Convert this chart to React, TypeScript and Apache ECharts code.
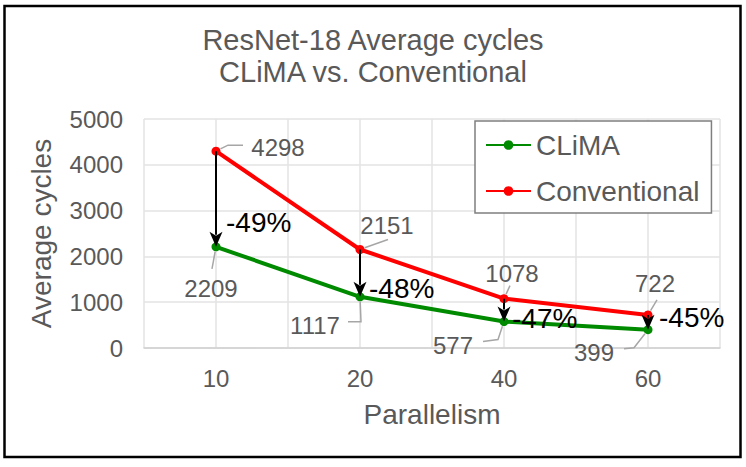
import React, { useEffect, useRef } from "react";
import * as echarts from "echarts";

const titleLines = ["ResNet-18 Average cycles", "CLiMA vs. Conventional"];
const categories = ["10", "20", "40", "60"];
const climaValues = [2209, 1117, 577, 399];
const conventionalValues = [4298, 2151, 1078, 722];
const reductionLabels = ["-49%", "-48%", "-47%", "-45%"];
const yTicks = { min: 0, max: 5000, interval: 1000 };
const xAxisName = "Parallelism";
const yAxisName = "Average cycles";
const seriesNames = ["CLiMA", "Conventional"];

// layout of annotations (offsets in pixels relative to points)
const convLabelLayout = [
  { dx: 62, dy: -4, leader: [[12, -6], [27, -6]] },
  { dx: 27, dy: -24, leader: [[28, -10]] },
  { dx: 8, dy: -25, leader: [[6, -13]] },
  { dx: 7, dy: -31, leader: [[9, -15]] },
];
const climaLabelLayout = [
  { dx: -5, dy: 42, leader: [[-4, 22]] },
  { dx: -45, dy: 29, leader: [[1, 25], [-12, 25]] },
  { dx: -51, dy: 24, leader: [[-6, 18], [-21, 20]] },
  { dx: -54, dy: 23, leader: [[-14, 18], [-24, 19]] },
];
const pctLayout = [
  { dx: 10, dy: -24 },
  { dx: 9, dy: -8 },
  { dx: 8, dy: -3 },
  { dx: 11, dy: -12 },
];

const FONT = "'Liberation Sans', Arial, Helvetica, sans-serif";
const GRAY = "#595959";
const GREEN = "#008a00";
const RED = "#ff0000";

function leaderPoints(p: number[], rel: number[][]) {
  const first = rel[0];
  const len = Math.hypot(first[0], first[1]) || 1;
  const start = [p[0] + (first[0] / len) * 5, p[1] + (first[1] / len) * 5];
  return [start, ...rel.map((r) => [p[0] + r[0], p[1] + r[1]])];
}

export default function App() {
  const ref = useRef<HTMLDivElement>(null);
  useEffect(() => {
    document.body.style.margin = "0";
    const chart = echarts.init(ref.current!, null, { renderer: "svg" });
    const annData = categories.map((_, i) => [i, conventionalValues[i], climaValues[i]]);
    chart.setOption({
      animation: false,
      backgroundColor: "#fff",
      textStyle: { fontFamily: FONT },
      title: {
        text: titleLines.join("\n"),
        left: "center",
        top: 24,
        padding: 0,
        textStyle: {
          fontSize: 29,
          fontWeight: "normal",
          color: GRAY,
          lineHeight: 32,
          fontFamily: FONT,
        },
      },
      legend: {
        data: seriesNames,
        orient: "vertical",
        left: 475,
        top: 121,
        padding: [10, 12, 8, 10],
        itemGap: 18,
        itemWidth: 45,
        itemHeight: 12,
        borderColor: "#7f7f7f",
        borderWidth: 1.5,
        backgroundColor: "#fff",
        textStyle: { fontSize: 28, color: GRAY, fontFamily: FONT },
      },
      grid: { left: 144, right: 26, top: 119, bottom: 119 },
      xAxis: [
        {
          type: "category",
          data: categories,
          boundaryGap: true,
          axisTick: { show: false },
          axisLine: { show: true, lineStyle: { color: "#d0d0d0", width: 1.5 } },
          axisLabel: { fontSize: 24, color: GRAY, margin: 18, fontFamily: FONT },
          splitLine: { show: false },
          name: xAxisName,
          nameLocation: "middle",
          nameGap: 52,
          nameTextStyle: { fontSize: 28, color: GRAY, fontFamily: FONT },
        },
        {
          type: "category",
          position: "top",
          data: Array.from({ length: categories.length * 2 }, () => ""),
          boundaryGap: true,
          axisTick: { show: false },
          axisLine: { show: false },
          axisLabel: { show: false },
          splitLine: { show: true, lineStyle: { color: "#e3e3e3", width: 1.5 } },
        },
      ],
      yAxis: {
        type: "value",
        min: yTicks.min,
        max: yTicks.max,
        interval: yTicks.interval,
        axisLine: { show: false },
        axisTick: { show: false },
        axisLabel: {
          fontSize: 24,
          color: GRAY,
          margin: 21,
          fontFamily: FONT,
          formatter: (v: number) => String(v),
        },
        splitLine: { show: true, lineStyle: { color: "#e3e3e3", width: 1.5 } },
        name: yAxisName,
        nameLocation: "middle",
        nameGap: 89,
        nameTextStyle: { fontSize: 28, color: GRAY, fontFamily: FONT },
      },
      series: [
        {
          name: seriesNames[0],
          type: "line",
          data: climaValues,
          symbol: "circle",
          symbolSize: 9,
          lineStyle: { color: GREEN, width: 4 },
          itemStyle: { color: GREEN },
          z: 2,
        },
        {
          name: seriesNames[1],
          type: "line",
          data: conventionalValues,
          symbol: "circle",
          symbolSize: 9,
          lineStyle: { color: RED, width: 4 },
          itemStyle: { color: RED },
          z: 2,
        },
        {
          type: "custom",
          data: annData,
          encode: { x: 0, y: [1, 2] },
          z: 5,
          silent: true,
          renderItem: (params: any, api: any) => {
            const i = api.value(0);
            const conv = api.value(1);
            const cl = api.value(2);
            const pc = api.coord([i, conv]);
            const pg = api.coord([i, cl]);
            const children: any[] = [];
            const cL = convLabelLayout[i];
            const gL = climaLabelLayout[i];
            children.push({
              type: "polyline",
              shape: { points: leaderPoints(pc, cL.leader) },
              style: { stroke: "#a6a6a6", lineWidth: 1.5, fill: null },
            });
            children.push({
              type: "polyline",
              shape: { points: leaderPoints(pg, gL.leader) },
              style: { stroke: "#a6a6a6", lineWidth: 1.5, fill: null },
            });
            children.push({
              type: "text",
              x: pc[0] + cL.dx,
              y: pc[1] + cL.dy,
              style: {
                text: String(conventionalValues[i]),
                fontSize: 24,
                fontFamily: FONT,
                fill: GRAY,
                align: "center",
                verticalAlign: "middle",
              },
            });
            children.push({
              type: "text",
              x: pg[0] + gL.dx,
              y: pg[1] + gL.dy,
              style: {
                text: String(climaValues[i]),
                fontSize: 24,
                fontFamily: FONT,
                fill: GRAY,
                align: "center",
                verticalAlign: "middle",
              },
            });
            // arrow
            const headH = 15;
            const headW = 6.5;
            children.push({
              type: "line",
              shape: { x1: pc[0], y1: pc[1], x2: pg[0], y2: pg[1] - headH + 3 },
              style: { stroke: "#000", lineWidth: 2 },
            });
            children.push({
              type: "polygon",
              shape: {
                points: [
                  [pg[0] - headW, pg[1] - headH],
                  [pg[0], pg[1] - headH + 4],
                  [pg[0] + headW, pg[1] - headH],
                  [pg[0], pg[1]],
                ],
              },
              style: { fill: "#000" },
            });
            const pL = pctLayout[i];
            children.push({
              type: "text",
              x: pg[0] + pL.dx,
              y: pg[1] + pL.dy,
              style: {
                text: reductionLabels[i],
                fontSize: 28,
                fontFamily: FONT,
                fill: "#000",
                align: "left",
                verticalAlign: "middle",
              },
            });
            return { type: "group", children };
          },
        },
      ],
      graphic: [
        {
          type: "rect",
          shape: { x: 4.5, y: 6, width: 736, height: 451 },
          style: { fill: "none", stroke: "#000", lineWidth: 2.5 },
          silent: true,
          z: 100,
        },
      ],
    });
    return () => chart.dispose();
  }, []);
  return <div ref={ref} style={{ width: 746, height: 467 }} />;
}
